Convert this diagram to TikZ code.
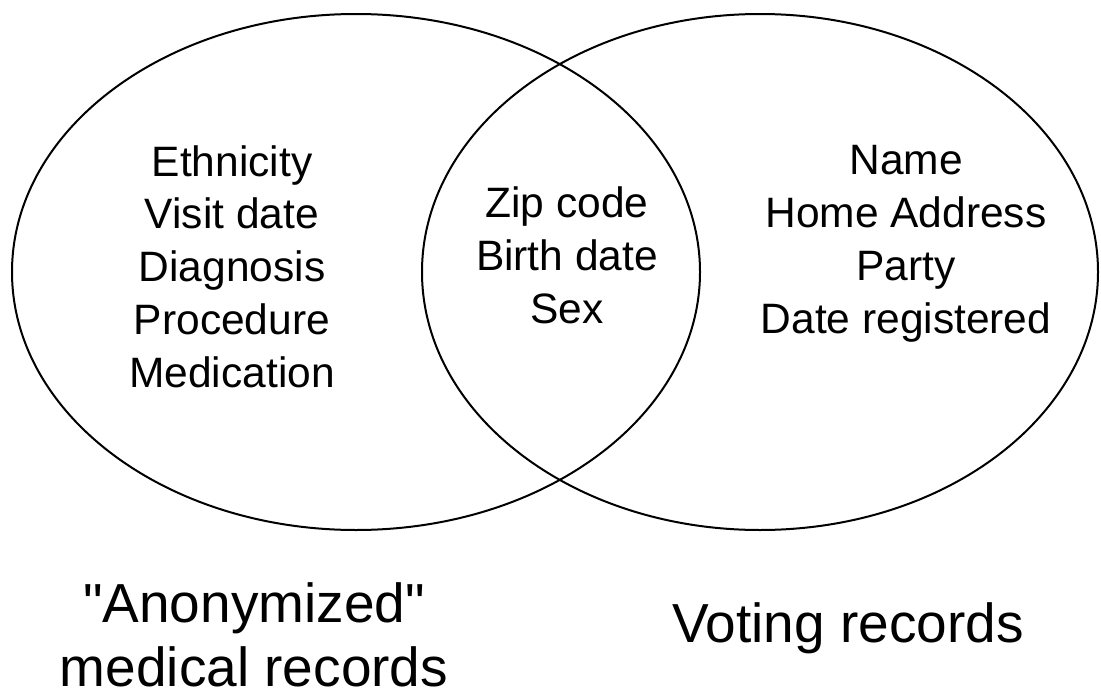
\documentclass[tikz,border=0pt]{standalone}
\usepackage{fontspec}
\setmainfont{Liberation Sans}
\begin{document}
\begin{tikzpicture}[x=1pt,y=-1pt,
        field/.style={align=center,inner sep=0pt,anchor=north,font=\fontsize{42.5}{53}\selectfont},
        setname/.style={align=center,inner sep=0pt,anchor=north,font=\fontsize{55}{64}\selectfont}]
        \useasboundingbox (0,0) rectangle (1101,696);
        \draw[line width=2pt] (356,272) ellipse (344 and 258);
        \draw[line width=2pt] (760,272) ellipse (338 and 258);
        \node[field] (medfields) at (232,145) {Ethnicity\\Visit date\\Diagnosis\\Procedure\\Medication};
        \node[field] (shared) at (567,187) {Zip code\\Birth date\\Sex};
        \node[field] (votefields) at (906,145) {Name\\Home Address\\Party\\Date registered};
        \node[setname] (medical) at (254,582) {\textquotedbl Anonymized\textquotedbl\\medical records};
        \node[setname] (voting) at (848,602) {Voting records};
    \end{tikzpicture}
\end{document}
